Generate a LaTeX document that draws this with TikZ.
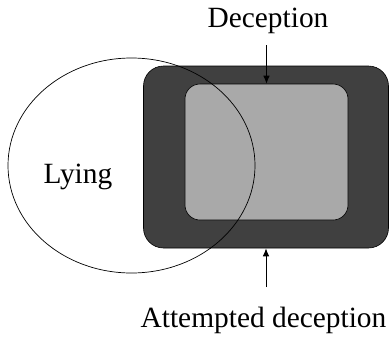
\documentclass[tikz,border=0pt]{standalone}
\usepackage{fontspec}
\setmainfont{Liberation Serif}
\usetikzlibrary{arrows.meta,shapes.geometric}
\definecolor{outerfill}{HTML}{404040}
\definecolor{innerfill}{HTML}{A9A9A9}
\tikzset{
  lbl/.style={font=\fontsize{29.5}{35}\selectfont, inner sep=0pt, anchor=base},
  box/.style={draw=black, line width=0.6bp, inner sep=0pt},
  pointer/.style={line width=0.8bp, -{Latex[length=8bp,width=6.5bp]}},
}
\begin{document}
\begin{tikzpicture}[x=1bp,y=-1bp]
  \useasboundingbox (0,0) rectangle (389,337);
  \node[box, fill=outerfill, rounded corners=20bp, minimum width=245bp, minimum height=182bp] (outer) at (266,157) {};
  \node[box, fill=innerfill, rounded corners=15bp, minimum width=163bp, minimum height=136bp] (inner) at (266.5,152) {};
  \node[draw=black, line width=0.7bp, ellipse, inner sep=0pt, minimum width=247bp, minimum height=215bp] (lyingshape) at (131.5,165.5) {};
  \node[lbl] (lying) at (78,183) {Lying};
  \node[lbl] (dec) at (268,27) {Deception};
  \node[lbl] (att) at (263.5,327) {Attempted deception};
  \coordinate (dtail) at (266.5,45);
  \coordinate (atail) at (266,287);
  \draw[pointer] (dtail) -- (inner.north);
  \draw[pointer] (atail) -- (outer.south);
\end{tikzpicture}
\end{document}
